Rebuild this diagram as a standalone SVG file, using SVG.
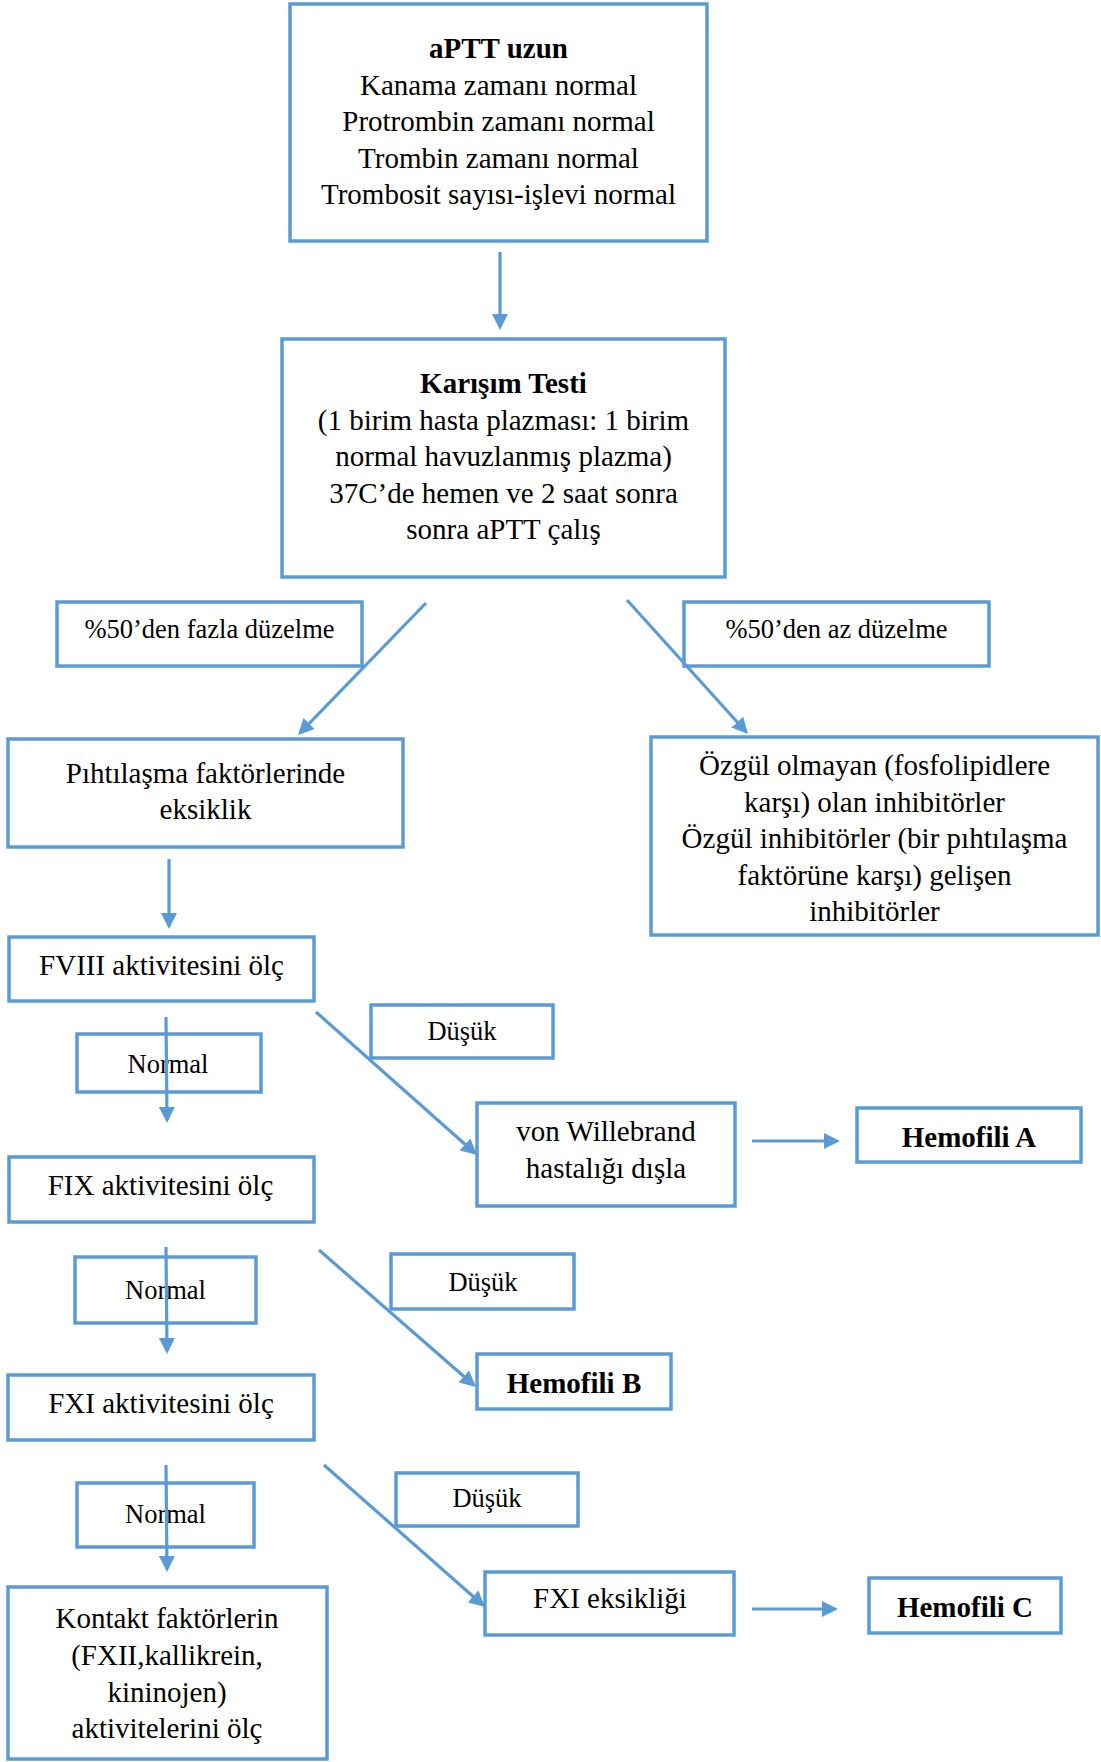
<svg xmlns="http://www.w3.org/2000/svg" width="1101" height="1762" viewBox="0 0 1101 1762">
<style>
.box{fill:#fff;stroke:#5B9BD5;stroke-width:3.5}
.t{font-family:"Liberation Serif","Times New Roman",serif;font-size:29px;fill:#000;text-anchor:middle}
.s{font-size:26.5px}
.b{font-weight:bold}
.c{stroke:#5B9BD5;stroke-width:3.2;fill:none;marker-end:url(#ah)}
</style>
<defs>
<marker id="ah" markerUnits="userSpaceOnUse" markerWidth="16" markerHeight="16" refX="13" refY="8" orient="auto">
<path d="M0,0 L16,8 L0,16 z" fill="#5B9BD5"/>
</marker>
</defs>
<rect width="1101" height="1762" fill="#fff"/>
<g id="n-aptt">
<rect class="box" x="290" y="4" width="417" height="237"/>
<text class="t b" x="498.5" y="58">aPTT uzun</text>
<text class="t" x="498.5" y="94.5">Kanama zamanı normal</text>
<text class="t" x="498.5" y="131">Protrombin zamanı normal</text>
<text class="t" x="498.5" y="167.5">Trombin zamanı normal</text>
<text class="t" x="498.5" y="204">Trombosit sayısı-işlevi normal</text>
</g>
<g id="n-karisim">
<rect class="box" x="282" y="339" width="443" height="238"/>
<text class="t b" x="503.5" y="393">Karışım Testi</text>
<text class="t" x="503.5" y="429.5">(1 birim hasta plazması: 1 birim</text>
<text class="t" x="503.5" y="466">normal havuzlanmış plazma)</text>
<text class="t" x="503.5" y="502.5">37C’de hemen ve 2 saat sonra</text>
<text class="t" x="503.5" y="539">sonra aPTT çalış</text>
</g>
<g id="l-fazla">
<rect class="box" x="57" y="602" width="305" height="64"/>
<text class="t s" x="209.5" y="638">%50’den fazla düzelme</text>
</g>
<g id="l-az">
<rect class="box" x="684" y="602" width="305" height="64"/>
<text class="t s" x="836.5" y="638">%50’den az düzelme</text>
</g>
<g id="n-pihti">
<rect class="box" x="8" y="739" width="395" height="108"/>
<text class="t" x="205.5" y="783">Pıhtılaşma faktörlerinde</text>
<text class="t" x="205.5" y="819">eksiklik</text>
</g>
<g id="n-ozgul">
<rect class="box" x="651" y="737" width="447" height="198"/>
<text class="t" x="874.5" y="775">Özgül olmayan (fosfolipidlere</text>
<text class="t" x="874.5" y="811.5">karşı) olan inhibitörler</text>
<text class="t" x="874.5" y="848">Özgül inhibitörler (bir pıhtılaşma</text>
<text class="t" x="874.5" y="884.5">faktörüne karşı) gelişen</text>
<text class="t" x="874.5" y="921">inhibitörler</text>
</g>
<g id="n-fviii">
<rect class="box" x="9" y="937" width="305" height="64"/>
<text class="t" x="161.5" y="975">FVIII aktivitesini ölç</text>
</g>
<g id="l-normal1">
<rect class="box" x="77" y="1034" width="184" height="58"/>
<text class="t s" x="168" y="1073">Normal</text>
</g>
<g id="l-dusuk1">
<rect class="box" x="371" y="1005" width="182" height="53"/>
<text class="t s" x="462" y="1040">Düşük</text>
</g>
<g id="n-vw">
<rect class="box" x="477" y="1103" width="258" height="103"/>
<text class="t" x="606" y="1141">von Willebrand</text>
<text class="t" x="606" y="1178">hastalığı dışla</text>
</g>
<g id="n-hemA">
<rect class="box" x="857" y="1108" width="224" height="54"/>
<text class="t b" x="969" y="1147">Hemofili A</text>
</g>
<g id="n-fix">
<rect class="box" x="9" y="1157" width="305" height="65"/>
<text class="t" x="160.5" y="1195">FIX aktivitesini ölç</text>
</g>
<g id="l-normal2">
<rect class="box" x="75" y="1257" width="181" height="66"/>
<text class="t s" x="165.5" y="1299">Normal</text>
</g>
<g id="l-dusuk2">
<rect class="box" x="391" y="1254" width="183" height="55"/>
<text class="t s" x="483" y="1291">Düşük</text>
</g>
<g id="n-hemB">
<rect class="box" x="477" y="1354" width="194" height="55"/>
<text class="t b" x="574" y="1393">Hemofili B</text>
</g>
<g id="n-fxi">
<rect class="box" x="8" y="1375" width="306" height="65"/>
<text class="t" x="161" y="1413">FXI aktivitesini ölç</text>
</g>
<g id="l-normal3">
<rect class="box" x="77" y="1483" width="177" height="64"/>
<text class="t s" x="165.5" y="1523">Normal</text>
</g>
<g id="l-dusuk3">
<rect class="box" x="396" y="1473" width="182" height="53"/>
<text class="t s" x="487" y="1507">Düşük</text>
</g>
<g id="n-fxieks">
<rect class="box" x="485" y="1572" width="249" height="63"/>
<text class="t" x="610" y="1608">FXI eksikliği</text>
</g>
<g id="n-hemC">
<rect class="box" x="869" y="1578" width="192" height="55"/>
<text class="t b" x="965" y="1617">Hemofili C</text>
</g>
<g id="n-kontakt">
<rect class="box" x="8" y="1587" width="319" height="172"/>
<text class="t" x="167" y="1628">Kontakt faktörlerin</text>
<text class="t" x="167" y="1665">(FXII,kallikrein,</text>
<text class="t" x="167" y="1702">kininojen)</text>
<text class="t" x="167" y="1738">aktivitelerini ölç</text>
</g>
<g id="connectors">
<line class="c" x1="500" y1="252" x2="500" y2="327"/>
<line class="c" x1="426" y1="603" x2="300.1" y2="732.8"/>
<line class="c" x1="627" y1="600" x2="746" y2="731.8"/>
<line class="c" x1="169" y1="859" x2="169" y2="926"/>
<line class="c" x1="166" y1="1017" x2="167" y2="1120"/>
<line class="c" x1="316" y1="1012" x2="474.8" y2="1153"/>
<line class="c" x1="752" y1="1141" x2="837" y2="1141"/>
<line class="c" x1="166" y1="1247" x2="167" y2="1351"/>
<line class="c" x1="319" y1="1250" x2="473.7" y2="1385"/>
<line class="c" x1="166" y1="1465" x2="167" y2="1569"/>
<line class="c" x1="324" y1="1465" x2="482.8" y2="1605"/>
<line class="c" x1="752" y1="1609" x2="835" y2="1609"/>
</g>
</svg>
